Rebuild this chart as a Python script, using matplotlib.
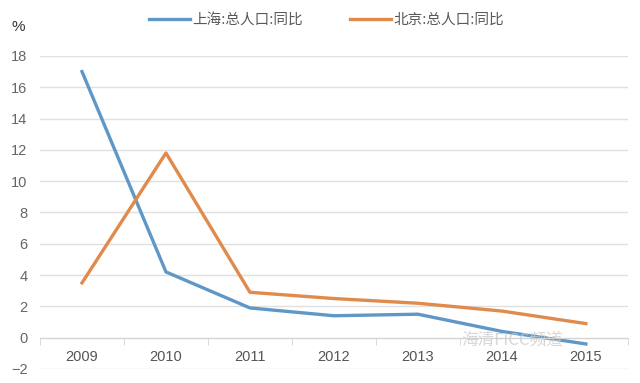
import matplotlib
matplotlib.use('Agg')
import matplotlib.pyplot as plt
import numpy as np

years = ['2009', '2010', '2011', '2012', '2013', '2014', '2015']
shanghai = [17.0, 4.2, 1.9, 1.4, 1.5, 0.4, -0.4]
beijing = [3.5, 11.8, 2.9, 2.5, 2.2, 1.7, 0.9]
series_names = ['上海:总人口:同比', '北京:总人口:同比']

plt.rcParams['font.family'] = ['Noto Sans CJK SC', 'DejaVu Sans']

fig = plt.figure(figsize=(6.4, 3.83), dpi=100)
ax = fig.add_axes([0.0625, 0.0366, 0.9185, 0.8174])

x = np.arange(len(years))
ax.plot(x, shanghai, color='#5f97c6', lw=2.4, label=series_names[0], solid_joinstyle='round')
ax.plot(x, beijing, color='#e08a4c', lw=2.4, label=series_names[1], solid_joinstyle='round')

ax.set_xlim(-0.5, len(years) - 0.5)
ax.set_ylim(-2, 18)
ax.set_yticks(np.arange(-2, 19, 2))
ax.yaxis.grid(True, color='#e0e0e0', lw=1)
ax.set_axisbelow(True)

for s in ['top', 'right', 'left']:
    ax.spines[s].set_visible(False)
ax.spines['bottom'].set_position(('data', 0))
ax.spines['bottom'].set_color('#d4d4d4')

ax.set_xticks(x)
ax.set_xticklabels(years, family=['Liberation Sans', 'DejaVu Sans'])
ax.set_xticks(np.arange(-0.5, len(years), 1), minor=True)
ax.tick_params(axis='x', which='major', length=0, pad=9, labelsize=10.5, labelcolor='#555555')
ax.tick_params(axis='x', which='minor', length=5, color='#d4d4d4', direction='out')
ax.tick_params(axis='y', length=0, pad=9, labelsize=10.5, labelcolor='#666666')
for lab in ax.get_yticklabels():
    lab.set_family(['Liberation Sans', 'DejaVu Sans'])

fig.text(18 / 640, 1 - 27 / 383, '%', ha='center', va='center', fontsize=11,
         color='#333333', family=['Liberation Sans', 'DejaVu Sans'])

fig.legend(loc='upper center', bbox_to_anchor=(0.51, 1.0), ncol=2, frameon=False,
           fontsize=10.5, handlelength=2.8, columnspacing=3.2, handletextpad=0.2,
           labelcolor='#595959')

# watermark
fig.text(0.8, 1 - 340 / 383, '海清FICC频道', ha='center', va='center', fontsize=12,
         color='#cccccc', alpha=0.8)

fig.savefig('out.png', dpi=100)
